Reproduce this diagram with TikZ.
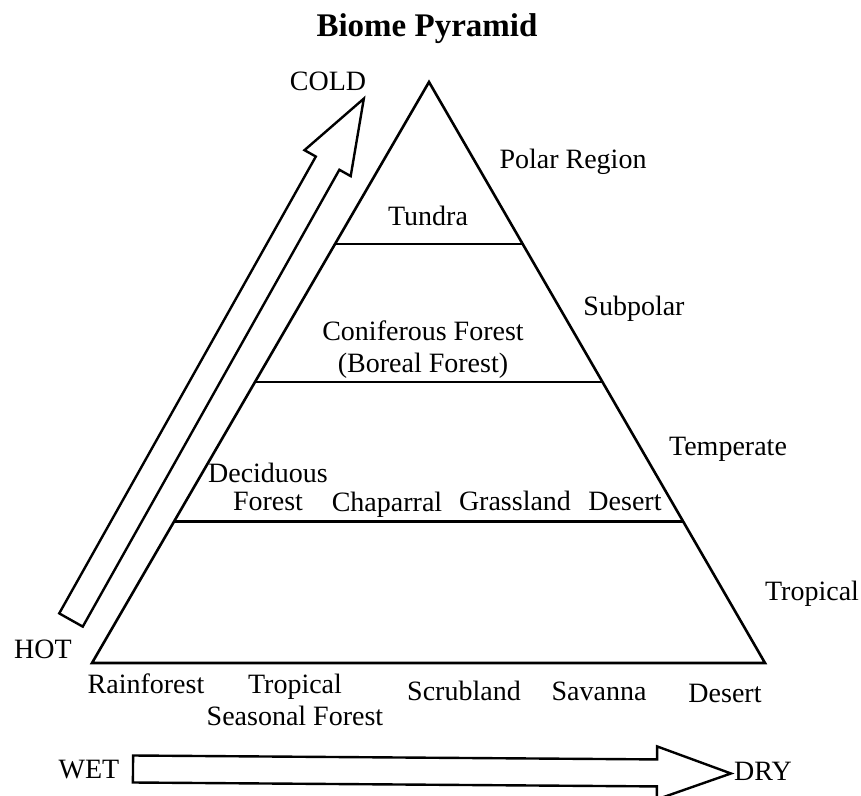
\documentclass[tikz,border=0pt]{standalone}
\usepackage{fontspec}
\setmainfont{Liberation Serif}
\usetikzlibrary{calc}

\begin{document}
\begin{tikzpicture}[
        x=0.5pt, y=-0.5pt,
        biome/.style={anchor=base, inner sep=0pt, align=center, font=\fontsize{14}{16}\selectfont},
        heading/.style={anchor=base, inner sep=0pt, font=\fontsize{16.5}{19}\selectfont\bfseries},
        tierline/.style={draw=black, line width=1.3pt, line join=miter},
        arrowline/.style={draw=black, line width=1.2pt, line join=miter},
        fatarrow/.pic={\draw[arrowline] (0,-13.5) -- (524,-13.5) -- (524,-26.5) -- (598,0) -- (524,26.5) -- (524,13.5) -- (0,13.5) -- cycle;}
        ]
        \useasboundingbox (0,0) rectangle (861,796);

        % Title
        \node (title) [heading] at (427,37) {Biome Pyramid};

        % Pyramid
        \coordinate (apex) at (429,82);
        \coordinate (bl) at (92,663);
        \coordinate (br) at (765,663);
        \draw [tierline] (apex) -- (br) -- (bl) -- cycle;
        \foreach \t in {0.279,0.516,0.756}
            \draw [tierline] ($(apex)!\t!(bl)$) -- ($(apex)!\t!(br)$);

        % Inside the pyramid
        \node (tundra) [biome] at (428,226) {Tundra};
        \node (conifer) [biome] at (423,372) {Coniferous Forest\\(Boreal Forest)};
        \node (deciduous) [biome] at (268,510) {Deciduous\\[-2pt]Forest};
        \node (chaparral) [biome] at (387,511) {Chaparral};
        \node (grassland) [biome] at (515,510) {Grassland};
        \node (tdesert) [biome] at (625,510) {Desert};

        % Climate zones
        \node (polar) [biome] at (573,169) {Polar Region};
        \node (subpolar) [biome] at (634,316) {Subpolar};
        \node (temperate) [biome] at (728,455) {Temperate};
        \node (tropical) [biome] at (812,600) {Tropical};

        % Base of the pyramid
        \node (rainforest) [biome] at (146,693) {Rainforest};
        \node (seasonal) [biome] at (295,725) {Tropical\\Seasonal Forest};
        \node (scrubland) [biome] at (464,700) {Scrubland};
        \node (savanna) [biome] at (599,700) {Savanna};
        \node (desert) [biome] at (725,702) {Desert};

        % HOT -> COLD
        \pic [rotate=60.68] at (71,620) {fatarrow};
        \node (hot) [biome] at (43,658) {HOT};
        \node (cold) [biome] at (328,91) {COLD};

        % WET -> DRY
        \pic [rotate=-0.43] at (133,769) {fatarrow};
        \node (wet) [biome] at (89,778) {WET};
        \node (dry) [biome] at (763,780) {DRY};

\end{tikzpicture}
\end{document}
